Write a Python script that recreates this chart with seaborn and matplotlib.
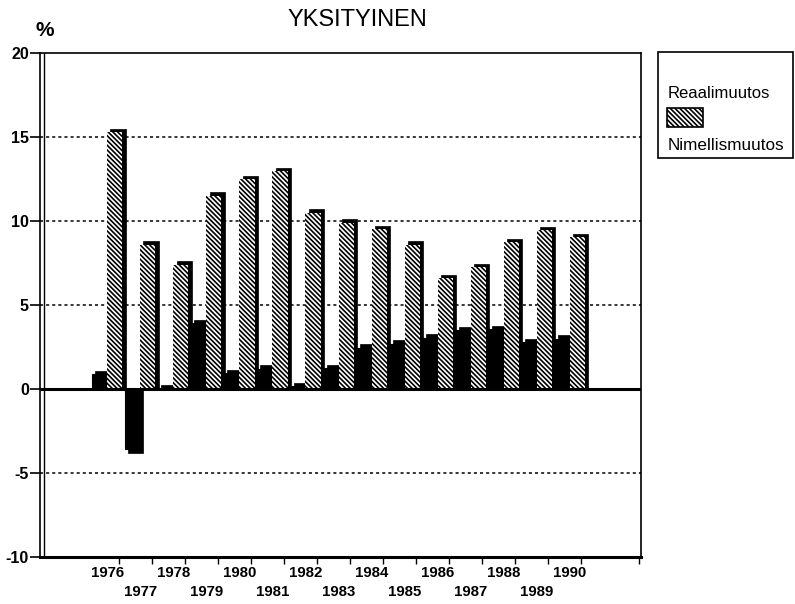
import matplotlib
matplotlib.use("Agg")
import matplotlib.pyplot as plt
from matplotlib.patches import Rectangle
import seaborn as sns
import pandas as pd
import numpy as np

years = [1976, 1977, 1978, 1979, 1980, 1981, 1982, 1983, 1984, 1985,
         1986, 1987, 1988, 1989, 1990]
reaalimuutos = [0.9, -3.6, 0.05, 3.9, 0.95, 1.2, 0.15, 1.25, 2.45, 2.7,
                3.05, 3.5, 3.55, 2.8, 3.0]
nimellismuutos = [15.3, 8.6, 7.4, 11.5, 12.5, 12.95, 10.5, 9.9, 9.5, 8.6,
                  6.6, 7.25, 8.75, 9.45, 9.05]
series_names = ["Reaalimuutos", "Nimellismuutos"]
yticks = [-10, -5, 0, 5, 10, 15, 20]
title = "YKSITYINEN"

df = pd.DataFrame({
    "year": [str(y) for y in years] * 2,
    "value": reaalimuutos + nimellismuutos,
    "series": [series_names[0]] * len(years) + [series_names[1]] * len(years),
})

sns.set_style("white")
plt.rcParams["font.family"] = ["Liberation Sans", "DejaVu Sans"]
plt.rcParams["hatch.linewidth"] = 1.2
plt.rcParams["text.color"] = "black"
plt.rcParams["xtick.color"] = "black"
plt.rcParams["ytick.color"] = "black"
plt.rcParams["xtick.labelcolor"] = "black"
plt.rcParams["ytick.labelcolor"] = "black"
HATCH = "\\\\\\\\\\\\\\"

fig = plt.figure(figsize=(7.95, 6.04), dpi=100)
ax = fig.add_axes([40 / 795, 1 - 557 / 604, 601 / 795, 504 / 604])

sns.barplot(data=df, x="year", y="value", hue="series", order=[str(y) for y in years],
            hue_order=series_names, palette=["black", "white"], width=0.92,
            edgecolor="black", linewidth=0.8, saturation=1, legend=False, ax=ax,
            errorbar=None, zorder=3)

n = len(years)
bars = [p for p in ax.patches if isinstance(p, Rectangle)]
dx, dy = 0.1, 0.2
for i, p in enumerate(bars):
    x0, w, h = p.get_x(), p.get_width(), p.get_height()
    y0 = p.get_y()
    if i >= n:
        p.set_hatch(HATCH)
        p.set_facecolor("white")
        p.set_edgecolor("black")
        p.set_linewidth(0)
    sign = 1 if h >= 0 else -1
    top = y0 + h
    shadow = Rectangle((x0 + dx, min(y0, top + sign * dy)), w,
                       abs(h) + dy, facecolor="black", edgecolor="black",
                       linewidth=0.5, zorder=2)
    ax.add_patch(shadow)

ax.set_xlim(-2.03, 16.15)
ax.set_ylim(-10, 20)

for yv in [-5, 5, 10, 15]:
    ax.axhline(yv, color="black", linestyle=(0, (2, 2)), linewidth=1.1, zorder=1)
ax.axhline(0, color="black", linewidth=2.2, zorder=4)

ax.set_yticks(yticks)
ax.set_yticklabels([str(t) for t in yticks], fontsize=11.5, weight="bold", color="black")
ax.tick_params(axis="y", direction="out", length=7, width=1.2, left=True, pad=1,
               colors="black")

# staggered year labels: even years on major ticks, odd years on minor ticks
even_idx = [k for k in range(n) if k % 2 == 0]
odd_idx = [k for k in range(n) if k % 2 == 1]
ax.set_xticks(even_idx)
ax.set_xticklabels([str(years[k]) for k in even_idx], fontsize=10.8, weight="bold",
                   color="black")
ax.set_xticks(odd_idx, minor=True)
ax.set_xticklabels([str(years[k]) for k in odd_idx], minor=True, fontsize=10.8,
                   weight="bold", color="black")
ax.tick_params(axis="x", which="major", length=0, pad=6.6)
ax.tick_params(axis="x", which="minor", length=0, pad=20.3)

# small tick marks along the bottom axis
sec = ax.secondary_xaxis("bottom")
sec.set_xticks([i + 0.35 for i in range(n)] + [16.1])
sec.set_xticklabels([])
sec.tick_params(axis="x", direction="out", length=5, width=1, colors="black")
sec.spines["bottom"].set_visible(False)

ax.set_xlabel("")
ax.set_ylabel("")
for s in ax.spines.values():
    s.set_visible(True)
    s.set_color("black")
    s.set_linewidth(1.2)
ax.spines["bottom"].set_linewidth(2.2)
ax.plot([0.007, 0.007], [0, 1], transform=ax.transAxes, color="black", lw=1.0, zorder=5)

fig.text(357 / 795, 1 - 20 / 604, title, ha="center", va="center", fontsize=17,
         color="black")
fig.text(45 / 795, 1 - 30 / 604, "%", ha="center", va="center", fontsize=15,
         weight="bold", color="black")

fig.patches.append(Rectangle((658 / 795, 1 - 158 / 604), 135 / 795, 106 / 604,
                             transform=fig.transFigure, facecolor="white",
                             edgecolor="black", linewidth=1.2))
fig.text(668 / 795, 1 - 93 / 604, series_names[0], ha="left", va="center", fontsize=12,
         color="black")
fig.patches.append(Rectangle((667 / 795, 1 - 127 / 604), 36 / 795, 19 / 604,
                             transform=fig.transFigure, facecolor="white",
                             edgecolor="black", linewidth=1.2, hatch=HATCH))
fig.text(668 / 795, 1 - 145 / 604, series_names[1], ha="left", va="center", fontsize=12.3,
         color="black")

fig.savefig("out.png", dpi=100)
